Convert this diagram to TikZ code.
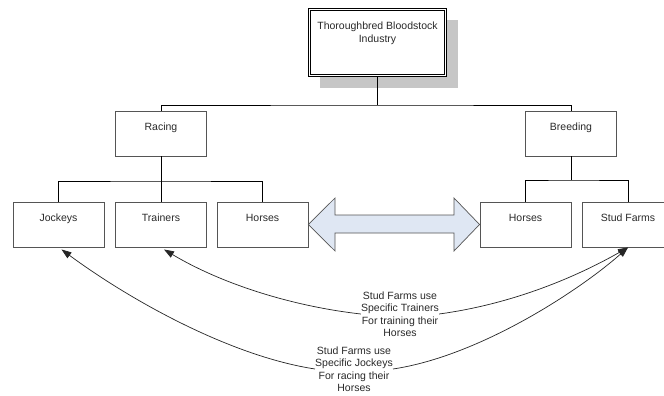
\documentclass[tikz,border=0pt]{standalone}
\usepackage{fontspec}
\setmainfont{Liberation Sans}
\usetikzlibrary{arrows.meta}
\definecolor{boxgrey}{HTML}{555555}
\definecolor{shadowgrey}{HTML}{C6C6C6}
\definecolor{arrowfill}{HTML}{DFE7F3}
\definecolor{txt}{HTML}{2A2A2A}
\begin{document}
\begin{tikzpicture}[x=1pt,y=-1pt,
  font=\fontsize{10.5}{12.5}\selectfont, text=txt,
  box/.style={draw=boxgrey, line width=0.9pt, fill=white, minimum width=91pt,
    minimum height=45pt, inner sep=0pt, text height=8pt, text depth=15pt},
  topbox/.style={draw=black, line width=0.7pt, double=white, double distance=1.6pt,
    fill=white, minimum width=136pt, minimum height=66pt, inner sep=0pt},
  conn/.style={draw=black, line width=0.9pt},
  link/.style={draw=black!85, line width=0.7pt, -{Triangle[length=10pt,width=7pt]}},
  note/.style={align=center, inner sep=0pt}
]
\useasboundingbox (0,0) rectangle (664,396);
\clip (0,0) rectangle (664,396);
\fill[white] (0,0) rectangle (664,396);

% shadow of the top box
\fill[shadowgrey] (320,20) rectangle (458,88);

% nodes
\node[topbox] (tb) at (377.5,42.5) {};
\node[note, anchor=north] (tbt) at ([yshift=-13pt]tb.north) {Thoroughbred Bloodstock\\Industry};

\node[box] (racing)   at (161,133.5) {Racing};
\node[box] (breeding) at (571,133.5) {Breeding};

\node[box] (jk) at (58.5,224.5)  {Jockeys};
\node[box] (tr) at (161,224.5)   {Trainers};
\node[box] (hr) at (262.5,224.5) {Horses};
\node[box] (hb) at (525.5,224.5) {Horses};
\node[box] (sf) at (628,224.5)   {Stud Farms};

% tree connectors
\coordinate (j0) at (377.5,105);
\coordinate (j1) at (161,181);
\coordinate (j2) at (571,180);
\draw[conn] ([yshift=-1.5pt]tb.south) -- (j0);
\draw[conn] (racing.north) |- (j0) -| (breeding.north);
\draw[conn] (racing.south) -- (j1);
\draw[conn] (jk.north) |- (j1) -| (hr.north);
\draw[conn] (j1) -- (tr.north);
\draw[conn] (breeding.south) -- (j2);
\draw[conn] (hb.north) |- (j2) -| (sf.north);

% double block arrow between the two Horses boxes
\draw[draw=boxgrey, line width=0.7pt, fill=arrowfill, line join=miter]
  (hr.east) -- (335,198) -- (335,215) -- (454,215) -- (454,198) -- (hb.west)
  -- (454,251) -- (454,233) -- (335,233) -- (335,251) -- cycle;

% notes
\node[note] (tn) at (400,314) {Stud Farms use\\Specific Trainers\\For training their\\Horses};
\node[note] (jn) at (354,369) {Stud Farms use\\Specific Jockeys\\For racing their\\Horses};

% curved links
\draw[link] (tn.west) .. controls (290,306) and (220,283) .. ([xshift=3pt,yshift=-2pt]tr.south);
\draw[link] (tn.east) .. controls (520,303) and (585,272) .. (sf.south);
\draw[link] (jn.west) .. controls (230,356) and (130,300) .. ([xshift=3pt,yshift=-2pt]jk.south);
\draw[link] (jn.east) .. controls (480,356) and (580,290) .. (sf.south);
\end{tikzpicture}
\end{document}
